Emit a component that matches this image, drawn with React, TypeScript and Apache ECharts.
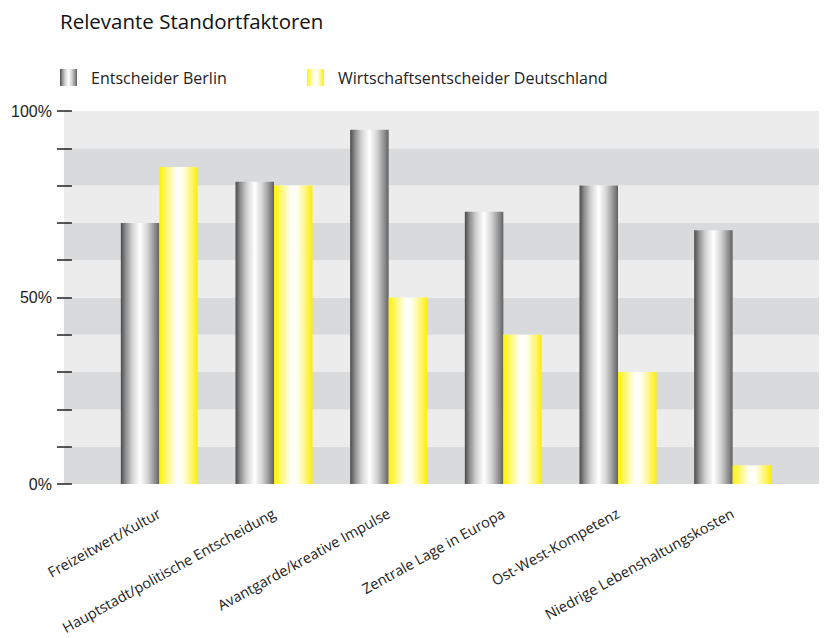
import React, { useEffect, useRef } from "react";
import * as echarts from "echarts";

const title = "Relevante Standortfaktoren";
const categories = [
  "Freizeitwert/Kultur",
  "Hauptstadt/politische Entscheidung",
  "Avantgarde/kreative Impulse",
  "Zentrale Lage in Europa",
  "Ost-West-Kompetenz",
  "Niedrige Lebenshaltungskosten",
];
const seriesNames = ["Entscheider Berlin", "Wirtschaftsentscheider Deutschland"];
const berlin = [70, 81, 95, 73, 80, 68];
const deutschland = [85, 80, 50, 40, 30, 5];
const yLabelValues = [0, 50, 100];

const grayGrad = () =>
  new echarts.graphic.LinearGradient(0, 0, 1, 0, [
    { offset: 0, color: "#4a4a4a" },
    { offset: 0.12, color: "#8c8c8c" },
    { offset: 0.3, color: "#d4d4d4" },
    { offset: 0.5, color: "#ffffff" },
    { offset: 0.7, color: "#d2d2d2" },
    { offset: 0.9, color: "#8a8a8a" },
    { offset: 1, color: "#616161" },
  ]);
const yellowGrad = () =>
  new echarts.graphic.LinearGradient(0, 0, 1, 0, [
    { offset: 0, color: "#fff200" },
    { offset: 0.2, color: "#fff87a" },
    { offset: 0.45, color: "#ffffff" },
    { offset: 0.6, color: "#fffff0" },
    { offset: 0.85, color: "#fff46a" },
    { offset: 1, color: "#ffee00" },
  ]);

export default function App() {
  const ref = useRef<HTMLDivElement>(null);
  useEffect(() => {
    if (!ref.current) return;
    const chart = echarts.init(ref.current, null, { renderer: "svg" });
    const textCol = "#222";
    const legendText = { fontFamily: "Open Sans", fontSize: 16, color: textCol, padding: [0, 0, 0, 9] };
    chart.setOption({
      animation: false,
      backgroundColor: "#ffffff",
      title: {
        text: title,
        left: 52,
        top: 3,
        padding: 0,
        textStyle: { fontFamily: "Open Sans", fontSize: 20.5, lineHeight: 20, fontWeight: "normal", color: "#111" },
      },
      legend: [
        {
          data: [seriesNames[0]],
          left: 52,
          top: 61,
          padding: 0,
          itemWidth: 17,
          itemHeight: 17,
          icon: "rect",
          textStyle: legendText,
        },
        {
          data: [seriesNames[1]],
          left: 299,
          top: 61,
          padding: 0,
          itemWidth: 17,
          itemHeight: 17,
          icon: "rect",
          textStyle: legendText,
        },
      ],
      grid: [
        { left: 52, right: 0, top: 103, bottom: 154 },
        { left: 94, right: 37, top: 103, bottom: 154 },
      ],
      xAxis: [
        { gridIndex: 0, type: "value", show: false, min: 0, max: 1 },
        {
          gridIndex: 1,
          type: "category",
          data: categories,
          axisLine: { show: false },
          axisTick: { show: false },
          axisLabel: {
            rotate: 29,
            interval: 0,
            margin: 28,
            fontFamily: "Open Sans",
            fontSize: 14.5,
            color: textCol,
          },
        },
      ],
      yAxis: [
        {
          gridIndex: 0,
          type: "value",
          min: 0,
          max: 100,
          interval: 10,
          offset: -8,
          axisLine: { show: false },
          axisTick: { show: true, length: 15, lineStyle: { color: "#222", width: 1.5 } },
          splitLine: { show: false },
          splitArea: { show: true, areaStyle: { color: ["#d9dadb", "#ececec"] } },
          axisLabel: {
            margin: 20,
            fontFamily: "Liberation Sans",
            fontSize: 16,
            color: textCol,
            formatter: (v: number) => (yLabelValues.includes(v) ? v + "%" : ""),
          },
        },
        { gridIndex: 1, type: "value", min: 0, max: 100, show: false },
      ],
      series: [
        {
          name: seriesNames[0],
          type: "bar",
          xAxisIndex: 1,
          yAxisIndex: 1,
          data: berlin,
          barWidth: 38.5,
          barGap: "0%",
          itemStyle: { color: grayGrad() },
        },
        {
          name: seriesNames[1],
          type: "bar",
          xAxisIndex: 1,
          yAxisIndex: 1,
          data: deutschland,
          barWidth: 38.5,
          barGap: "0%",
          itemStyle: { color: yellowGrad() },
        },
      ],
    });
    return () => chart.dispose();
  }, []);
  return <div ref={ref} style={{ width: 819, height: 630 }} />;
}
